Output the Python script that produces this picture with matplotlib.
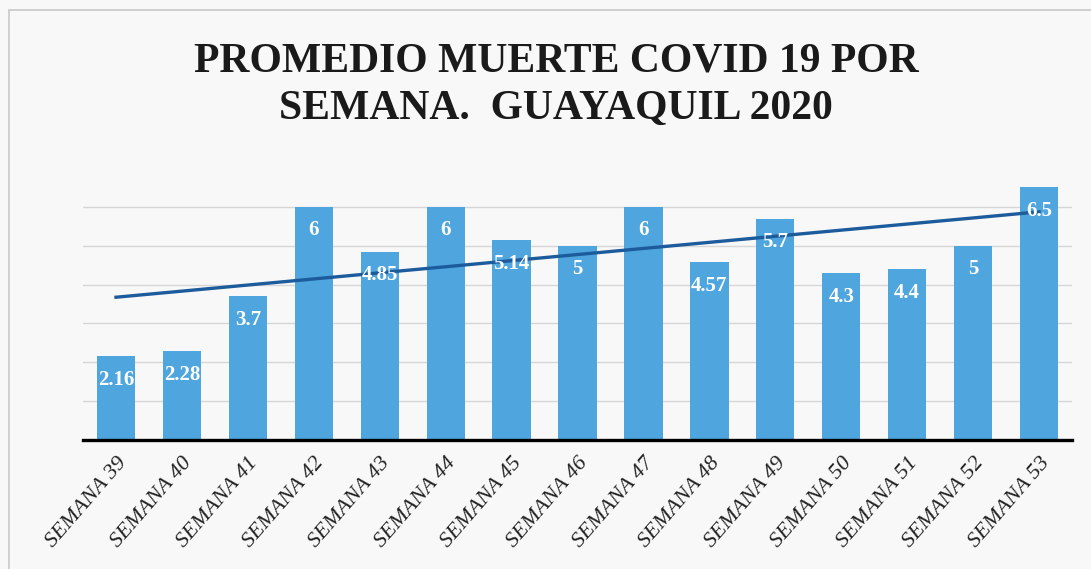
import matplotlib
matplotlib.use('Agg')
import matplotlib.pyplot as plt
import numpy as np
from matplotlib.patches import Rectangle

weeks = ["SEMANA 39", "SEMANA 40", "SEMANA 41", "SEMANA 42", "SEMANA 43",
         "SEMANA 44", "SEMANA 45", "SEMANA 46", "SEMANA 47", "SEMANA 48",
         "SEMANA 49", "SEMANA 50", "SEMANA 51", "SEMANA 52", "SEMANA 53"]
deaths = [2.16, 2.28, 3.7, 6, 4.85, 6, 5.14, 5, 6, 4.57, 5.7, 4.3, 4.4, 5, 6.5]
labels = ["2.16", "2.28", "3.7", "6", "4.85", "6", "5.14", "5", "6", "4.57",
          "5.7", "4.3", "4.4", "5", "6.5"]
title = "PROMEDIO MUERTE COVID 19 POR\nSEMANA.  GUAYAQUIL 2020"

BAR = '#4fa5dd'
TREND = '#1d5c9c'

fig = plt.figure(figsize=(10.91, 5.69), dpi=100)
fig.patch.set_facecolor('#f8f8f8')
fig.patches.append(Rectangle((0.008, -0.01), 0.995, 0.993, transform=fig.transFigure,
                             fill=False, edgecolor='#c8c8c8', linewidth=1.2))

ax = fig.add_axes([0.0761, 0.2267, 0.9065, 0.478])
ax.set_facecolor('none')

x = np.arange(len(weeks))
ax.bar(x, deaths, width=0.58, color=BAR, zorder=2)

# linear trend line
coef = np.polyfit(x, deaths, 1)
ax.plot(x, np.polyval(coef, x), color=TREND, linewidth=2.4, zorder=3)

for xi, v, lab in zip(x, deaths, labels):
    ax.annotate(lab, (xi, v), xytext=(0, -17), textcoords='offset points',
                ha='center', va='center', color='white', fontsize=15,
                fontweight='bold', family='Liberation Serif', zorder=4)

ax.set_xlim(-0.5, len(weeks) - 0.5)
ax.set_ylim(0, 7)
ax.set_yticks(np.arange(1, 7))
ax.yaxis.grid(True, color='#d6d6d6', linewidth=1.0, zorder=0)
ax.tick_params(axis='y', left=False, labelleft=False)
ax.tick_params(axis='x', length=0, pad=10)
ax.set_xticks(x)
ax.set_xticklabels(weeks, rotation=49, ha='right', rotation_mode='anchor',
                   fontsize=16, family='Liberation Serif', style='italic', color='#222222')

for s in ['top', 'right', 'left']:
    ax.spines[s].set_visible(False)
ax.spines['bottom'].set_linewidth(2.4)
ax.spines['bottom'].set_color('black')
ax.spines['bottom'].set_zorder(5)

fig.text(0.51, 0.85, title, ha='center', va='center', fontsize=30,
         fontweight='bold', family='Liberation Serif', color='#1a1a1a',
         linespacing=1.3)

plt.savefig('out.png', dpi=100, facecolor=fig.get_facecolor())
